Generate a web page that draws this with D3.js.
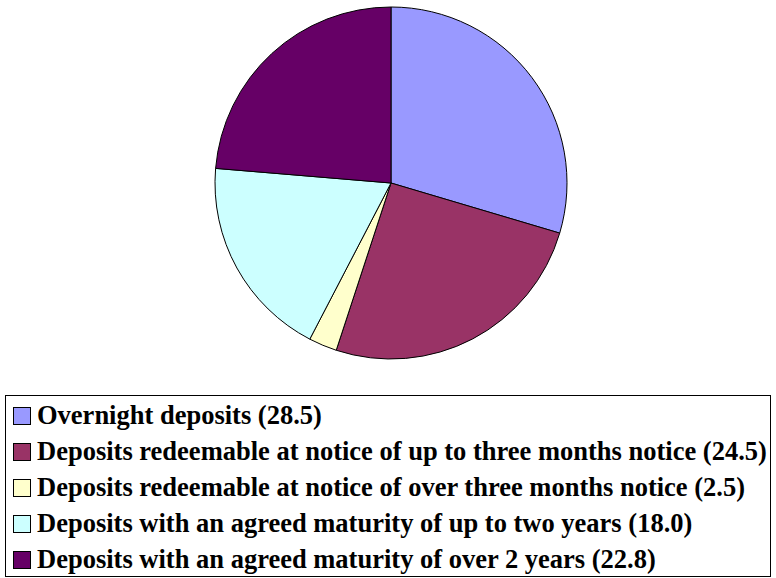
<!DOCTYPE html>
<html>
<head>
<meta charset="utf-8">
<script src="https://cdn.jsdelivr.net/npm/d3@7"></script>
<style>
  body { margin: 0; background: #fff; }
  svg { display: block; }
</style>
</head>
<body>
<div id="chart"></div>
<script>
// slice data, in the order the pie draws them (clockwise from 12 o'clock)
var labels = [
	'Overnight deposits',
	'Deposits redeemable at notice of up to three months notice',
	'Deposits redeemable at notice of over three months notice',
	'Deposits with an agreed maturity of up to two years',
	'Deposits with an agreed maturity of over 2 years'
];
var values = [28.5, 24.5, 2.5, 18.0, 22.8];
var colors = ['#9999FF', '#993366', '#FFFFCC', '#CCFFFF', '#660066'];

var width = 776, height = 578;

var svg = d3.select('#chart').append('svg')
	.attr('width', width)
	.attr('height', height);

var data = values.map(function(v, i) {
	return { label: labels[i], value: v, color: colors[i] };
});

// pie
var pie = d3.pie()
	.sort(null)
	.value(function(d) { return d.value; });

var arc = d3.arc()
	.innerRadius(0)
	.outerRadius(176);

var pieG = svg.append('g')
	.attr('transform', 'translate(391,183)');

pieG.selectAll('path')
	.data(pie(data))
	.enter().append('path')
	.attr('d', arc)
	.attr('fill', function(d) { return d.data.color; })
	.attr('stroke', '#000')
	.attr('stroke-width', 1)
	.attr('stroke-linejoin', 'round');

// legend
var legend = svg.append('g');

legend.append('rect')
	.attr('x', 5.5)
	.attr('y', 395.5)
	.attr('width', 765)
	.attr('height', 181)
	.attr('fill', '#fff')
	.attr('stroke', '#000')
	.attr('stroke-width', 1);

var rowY = d3.scalePoint()
	.domain(labels)
	.range([424, 568]);

var items = legend.selectAll('g.item')
	.data(data)
	.enter().append('g')
	.attr('class', 'item')
	.attr('transform', function(d) { return 'translate(0,' + rowY(d.label) + ')'; });

items.append('rect')
	.attr('x', 13.5)
	.attr('y', -16.5)
	.attr('width', 17)
	.attr('height', 17)
	.attr('fill', function(d) { return d.color; })
	.attr('stroke', '#000')
	.attr('stroke-width', 1);

items.append('text')
	.attr('x', 37)
	.attr('y', 0)
	.attr('font-family', '"Liberation Serif", "Times New Roman", serif')
	.attr('font-weight', 'bold')
	.attr('font-size', '26.5px')
	.attr('fill', '#000')
	.text(function(d) { return d.label + ' (' + d.value.toFixed(1) + ')'; });
</script>
</body>
</html>
